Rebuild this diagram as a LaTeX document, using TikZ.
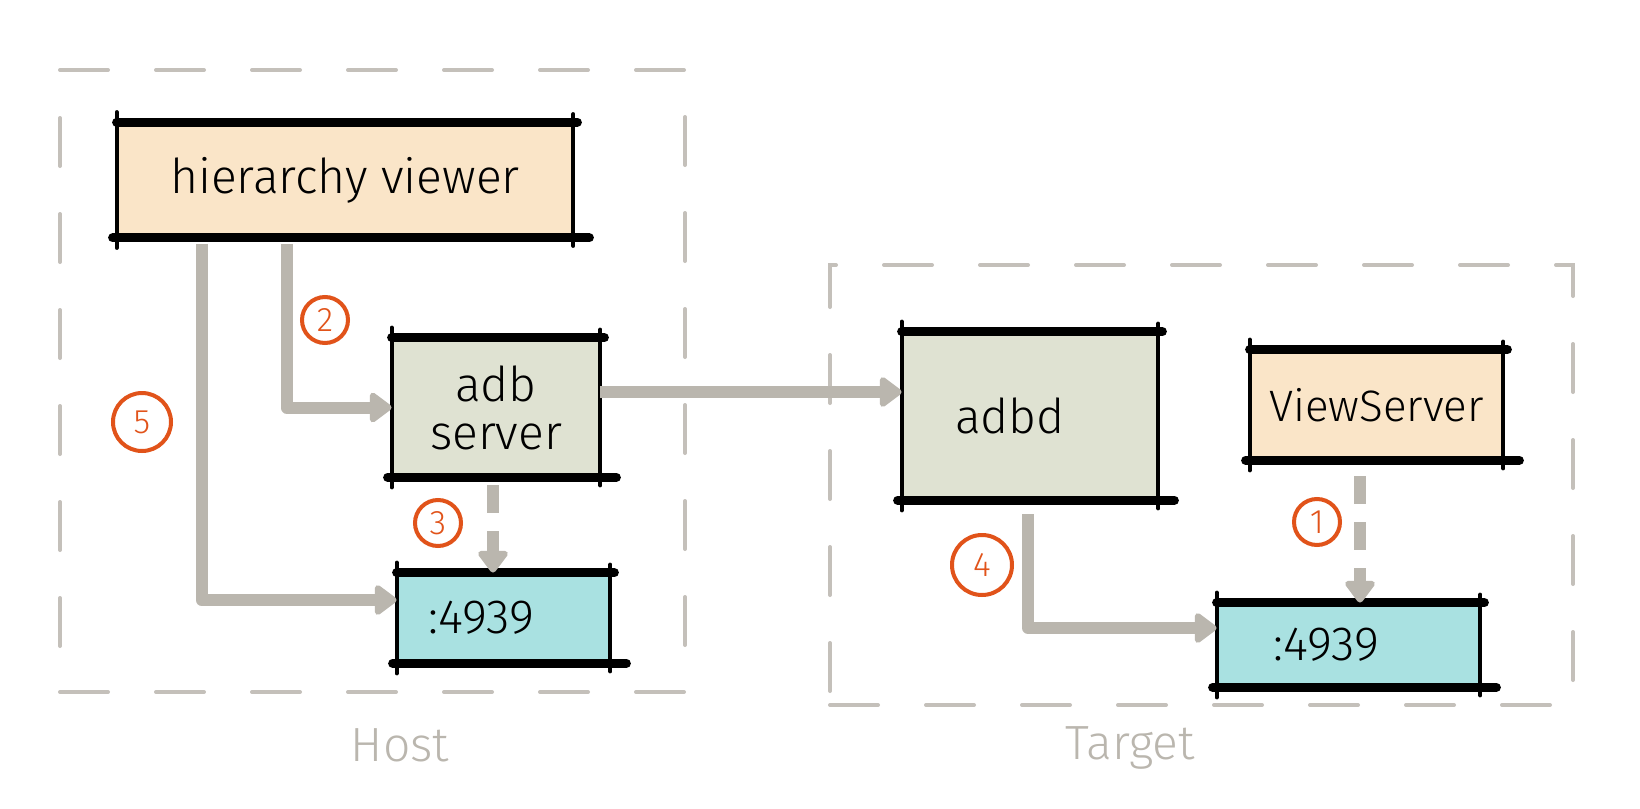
\documentclass[tikz,border=0pt]{standalone}
\usepackage{fontspec}
\setmainfont{Fira Sans Light}
\usetikzlibrary{arrows.meta,calc}
\definecolor{peach}{HTML}{FAE5C8}
\definecolor{sage}{HTML}{DFE2D2}
\definecolor{aqua}{HTML}{A9E1E1}
\definecolor{arrowgrey}{HTML}{BAB6AE}
\definecolor{grpgrey}{HTML}{C4C0BA}
\definecolor{numorange}{HTML}{E1531A}
\newcommand\skbox[1]{%
  \draw[sideln] ([yshift=5pt]#1.north west) -- ([yshift=-5pt]#1.south west);
  \draw[sideln] ([yshift=4pt]#1.north east) -- ([yshift=-4pt]#1.south east);
  \draw[topln] (#1.north west) -- ([xshift=2pt]#1.north east);
  \draw[topln] ([xshift=-2pt]#1.south west) -- ([xshift=8pt]#1.south east);
}
\begin{document}
\begin{tikzpicture}[x=0.5pt,y=-0.5pt,
  box/.style={inner sep=0pt, font=\fontsize{24}{28}\selectfont, align=center},
  sideln/.style={draw=black, line width=2pt, line cap=round},
  topln/.style={draw=black, line width=4.5pt, line cap=round},
  grp/.style={draw=grpgrey, line width=2pt, line cap=round, dash pattern=on 24pt off 24pt, inner sep=0pt},
  lbl/.style={text=arrowgrey, font=\fontsize{24}{28}\selectfont},
  conn/.style={draw=arrowgrey, line width=6pt, line join=round, -{Triangle[length=12pt,width=17pt,round]}},
  dconn/.style={conn, dash pattern=on 14pt off 9pt},
  num/.style={circle, draw=numorange, line width=2pt, text=numorange, inner sep=0pt, minimum size=23pt, font=\fontsize{17}{17}\selectfont}
]
\fill[white] (0,0) rectangle (1640,809);
\useasboundingbox (0,0) rectangle (1640,809);

% groups
\node[grp, minimum width=312.5pt, minimum height=311pt] (hostgrp) at (372.5,381) {};
\node[grp, minimum width=371.5pt, minimum height=220pt] (targetgrp) at (1201.5,485) {};
\node[lbl] (hostlbl) at (400,745) {Host};
\node[lbl] (targetlbl) at (1130,748) {Target};

% boxes
\node[box, fill=peach, minimum width=228pt, minimum height=57.5pt] (hv) at (345,180) {hierarchy viewer};
\node[box, fill=sage, minimum width=104pt, minimum height=69.5pt] (adb) at (496,407.5) {adb\\[-4pt]server};
\node[box, fill=aqua, minimum width=106.5pt, minimum height=45pt, text width=106.5pt] (p1) at (503.5,618) {\hspace*{-22pt}:4939};
\node[box, fill=sage, minimum width=128pt, minimum height=84pt, text width=128pt] (adbd) at (1030,416) {\hspace*{-20pt}adbd};
\node[box, fill=peach, minimum width=126.5pt, minimum height=55pt, font=\fontsize{22}{26}\selectfont] (vs) at (1376.5,405) {ViewServer};
\node[box, fill=aqua, minimum width=131.5pt, minimum height=42pt, text width=131.5pt] (p2) at (1348.5,645) {\hspace*{-22pt}:4939};

\skbox{hv}
\skbox{adb}
\skbox{p1}
\skbox{adbd}
\skbox{vs}
\skbox{p2}

% connectors
\draw[conn] ($(hv.south west)+(85,6)$) |- ([yshift=9pt]p1.west);
\draw[conn] ($(hv.south west)+(170,6)$) |- (adb.west);
\draw[conn] ([yshift=7.75pt]adb.east) coordinate (s3) -- (s3 -| adbd.west);
\draw[dconn] ([xshift=-1.5pt,yshift=-4pt]adb.south) coordinate (s4) -- (s4 |- p1.north);
\draw[conn] ([xshift=-1pt,yshift=-7pt]adbd.south) |- ([yshift=8.5pt]p2.west);
\draw[dconn] ([xshift=-8.25pt,yshift=-8pt]vs.south) coordinate (s6) -- (s6 |- p2.north);

% step numbers
\node[num, minimum width=23pt, minimum height=21pt] (n2) at (325,320) {2};
\node[num] (n3) at (438,523) {3};
\node[num, minimum size=29pt] (n5) at (142,422) {5};
\node[num, minimum width=27pt, minimum height=30pt] (n4) at (982,565) {4};
\node[num, minimum width=18pt, minimum height=23pt] (n1) at (1317,522) {1};
\end{tikzpicture}
\end{document}
